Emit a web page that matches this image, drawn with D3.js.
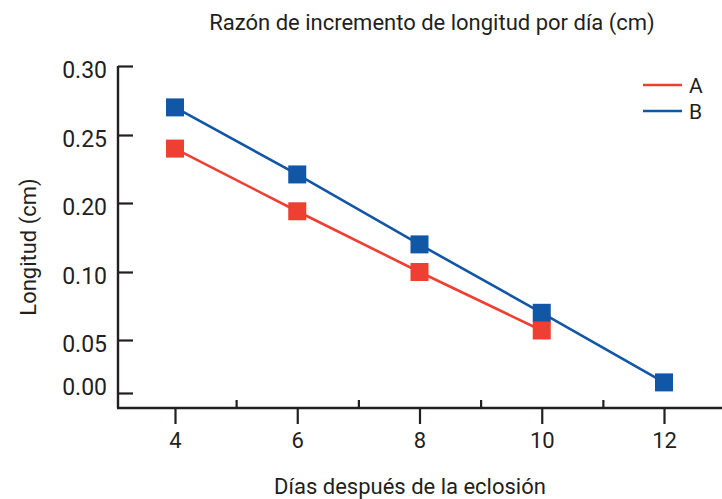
<!DOCTYPE html>
<html>
<head>
<meta charset="utf-8">
<script src="https://cdn.jsdelivr.net/npm/d3@7"></script>
<style>
  html, body { margin: 0; padding: 0; background: #fff; }
  svg { display: block; }
  text { font-family: Roboto, "Noto Sans", sans-serif; fill: #231f20; }
</style>
</head>
<body>
<svg id="chart" width="722" height="499"></svg>
<script>
const title = "Razón de incremento de longitud por día (cm)";
const xLabel = "Días después de la eclosión";
const yLabel = "Longitud (cm)";
const days = [4, 6, 8, 10, 12];
const minorDays = [5, 7, 9, 11];
const seriesNames = ["A", "B"];
const seriesA = [0.24, 0.188, 0.10, 0.057];      // days 4..10
const seriesB = [0.27, 0.221, 0.14, 0.07, 0.01]; // days 4..12
const yTickValues = [0.00, 0.05, 0.10, 0.20, 0.25, 0.30];
const yAxisStops = [-0.014, 0.00, 0.05, 0.10, 0.20, 0.25, 0.30];
const colors = { A: "#ee3f33", B: "#1256a6" };

const svg = d3.select("#chart");
const ink = "#231f20";

const x = d3.scaleLinear().domain([4, 12]).range([175, 664]);
const y = d3.scaleLinear().domain(yAxisStops).range([408, 393, 340, 272, 203, 135, 66]);

// Y axis
const yAxis = d3.axisLeft(y).tickValues(yTickValues).tickFormat(d3.format(".2f"))
  .tickSize(-15).tickPadding(11);
const gy = svg.append("g").attr("transform", "translate(118,0)").call(yAxis);
gy.select(".domain").remove();
gy.selectAll(".tick line").attr("stroke", ink).attr("stroke-width", 2.2);
gy.selectAll(".tick text").attr("font-size", 23).attr("fill", ink)
  .attr("dy", d => d === 0 ? "0.05em" : "0.52em");

// X axis (major, downward with labels)
const xAxis = d3.axisBottom(x).tickValues(days).tickFormat(d3.format("d"))
  .tickSize(16).tickPadding(8);
const gx = svg.append("g").attr("transform", "translate(0,408)").call(xAxis);
gx.select(".domain").remove();
gx.selectAll(".tick line").attr("stroke", ink).attr("stroke-width", 2.2);
gx.selectAll(".tick text").attr("font-size", 22).attr("fill", ink);

// X axis minor ticks (upward)
const xMinor = d3.axisBottom(x).tickValues(minorDays).tickFormat("").tickSize(-8);
const gxm = svg.append("g").attr("transform", "translate(0,408)").call(xMinor);
gxm.select(".domain").remove();
gxm.selectAll(".tick line").attr("stroke", ink).attr("stroke-width", 2.2);

// Axis lines
svg.append("line").attr("x1", 118).attr("x2", 118)
  .attr("y1", y(0.30)).attr("y2", y(-0.014))
  .attr("stroke", ink).attr("stroke-width", 2.4);
svg.append("line").attr("x1", 117).attr("x2", 722)
  .attr("y1", y(-0.014)).attr("y2", y(-0.014))
  .attr("stroke", ink).attr("stroke-width", 2.4);

// Series
const series = [
  { name: "A", values: seriesA },
  { name: "B", values: seriesB }
];
const line = d3.line().x(d => x(d.day)).y(d => y(d.v));
series.forEach(s => {
  const pts = s.values.map((v, i) => ({ day: days[i], v }));
  svg.append("path").datum(pts)
    .attr("d", line).attr("fill", "none")
    .attr("stroke", colors[s.name]).attr("stroke-width", 2.6);
  svg.append("g").selectAll("rect").data(pts).join("rect")
    .attr("x", d => x(d.day) - 9).attr("y", d => y(d.v) - 9)
    .attr("width", 18).attr("height", 18)
    .attr("fill", colors[s.name]);
});

// Legend
const legend = svg.append("g");
seriesNames.forEach((n, i) => {
  const ly = 85 + i * 26;
  legend.append("line").attr("x1", 643).attr("x2", 682).attr("y1", ly).attr("y2", ly)
    .attr("stroke", colors[n]).attr("stroke-width", 2.6);
  legend.append("text").attr("x", 689).attr("y", ly).attr("dy", "0.36em")
    .attr("font-size", 21).text(n);
});

// Titles
svg.append("text").attr("x", 432).attr("y", 30).attr("text-anchor", "middle")
  .attr("font-size", 22).text(title);
svg.append("text").attr("x", 410).attr("y", 494).attr("text-anchor", "middle")
  .attr("font-size", 22).text(xLabel);
svg.append("text").attr("transform", "translate(36,247) rotate(-90)")
  .attr("text-anchor", "middle").attr("font-size", 22).text(yLabel);
</script>
</body>
</html>
